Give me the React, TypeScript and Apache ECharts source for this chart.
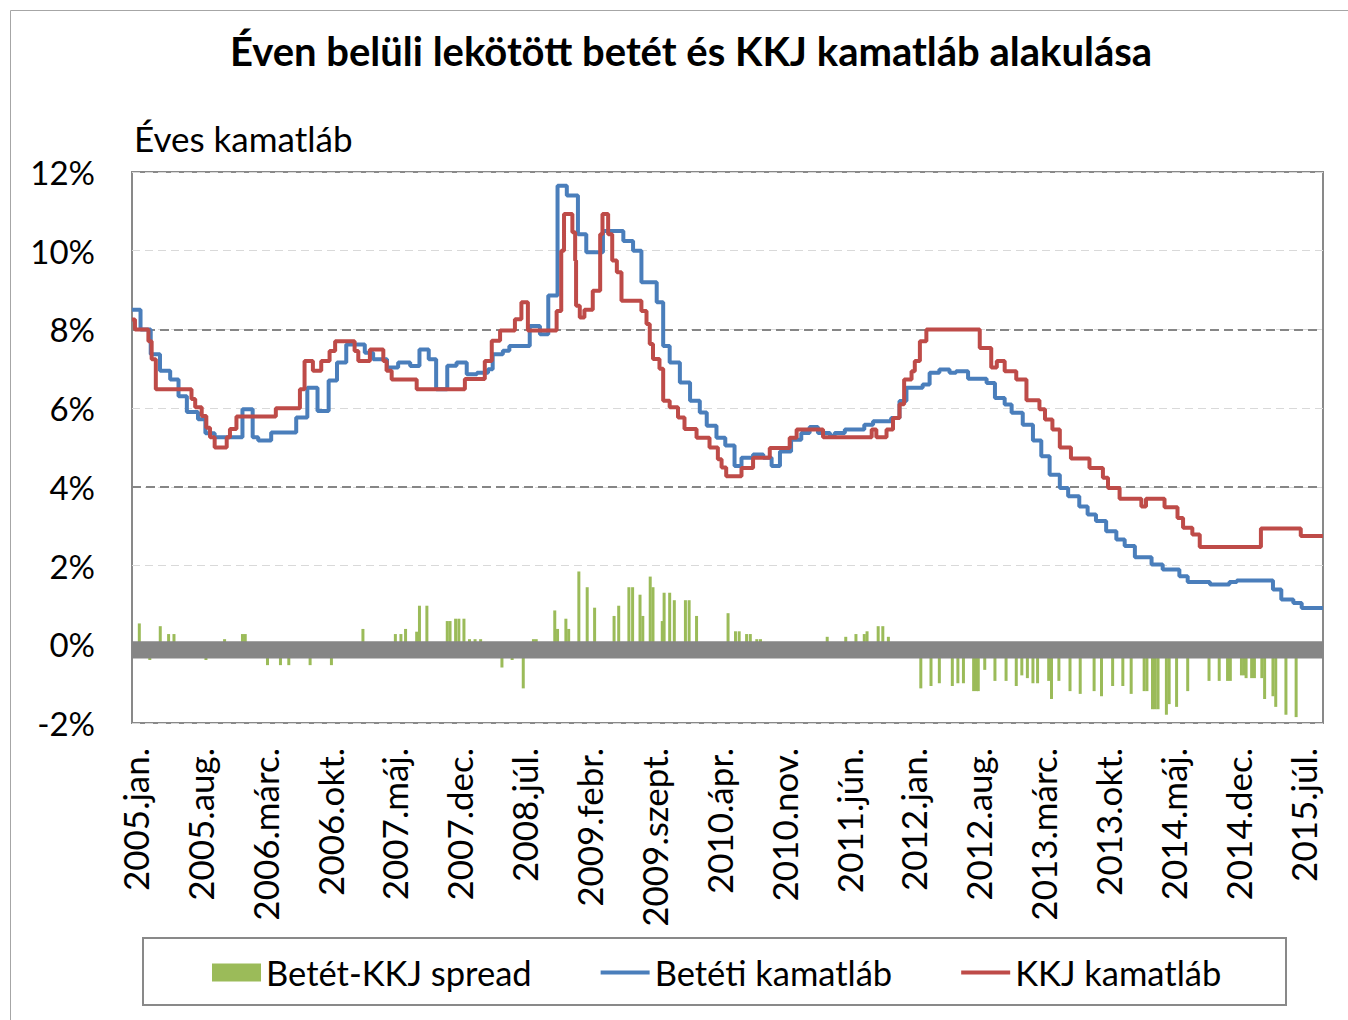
import React, { useEffect, useRef } from 'react';
import * as echarts from 'echarts';

// x values are months counted from 2005 January
const tickMonths = [0, 7, 14, 21, 28, 35, 42, 49, 56, 63, 70, 77, 84, 91, 98, 105, 112, 119, 126];
const tickLabels = [
  '2005.jan.', '2005.aug.', '2006.márc.', '2006.okt.', '2007.máj.', '2007.dec.', '2008.júl.',
  '2009.febr.', '2009.szept.', '2010.ápr.', '2010.nov.', '2011.jún.', '2012.jan.', '2012.aug.',
  '2013.márc.', '2013.okt.', '2014.máj.', '2014.dec.', '2015.júl.',
];

const seriesNames = ['Betét-KKJ spread', 'Betéti kamatláb', 'KKJ kamatláb'];

// Betéti kamatláb (deposit rate), step changes [month, %]
const depositRate: [number, number][] = [
  [-0.32, 8.5], [0.6, 8.0], [1.7, 7.37], [2.7, 6.95], [3.8, 6.73], [4.7, 6.3], [5.6, 5.9], [6.8, 5.72],
  [7.6, 5.36], [8.6, 5.26], [11.6, 5.97], [12.7, 5.26], [13.3, 5.18], [14.7, 5.38], [17.4, 5.76],
  [18.6, 6.52], [19.7, 5.93], [20.9, 6.7], [21.8, 7.16], [22.8, 7.62], [24.8, 7.41], [25.7, 7.24],
  [27.2, 7.03], [28.4, 7.16], [29.7, 7.07], [30.7, 7.49], [31.7, 7.24], [32.5, 6.48], [33.7, 7.08],
  [34.7, 7.16], [35.8, 6.86], [36.9, 6.9], [38.1, 6.99], [38.6, 7.37], [39.7, 7.46], [40.4, 7.58],
  [42.6, 8.09], [43.7, 7.88], [44.6, 8.86], [45.6, 11.65], [46.6, 11.4], [47.8, 10.42], [48.7, 9.96],
  [50.5, 10.5], [52.7, 10.25], [53.75, 10.0], [54.65, 9.2], [56.3, 8.69], [57.0, 7.58], [57.7, 7.16],
  [58.8, 6.65], [59.9, 6.19], [60.95, 5.89], [61.7, 5.55], [62.75, 5.25], [63.7, 5.05], [64.7, 4.53],
  [65.45, 4.74], [66.7, 4.82], [67.8, 4.74], [68.7, 4.53], [69.6, 4.9], [70.8, 5.2], [71.9, 5.37],
  [72.8, 5.52], [73.7, 5.37], [75.0, 5.29], [75.5, 5.37], [76.6, 5.46], [78.7, 5.58], [79.65, 5.67],
  [81.6, 5.75], [82.5, 6.18], [83.25, 6.52], [85.0, 6.6], [85.75, 6.9], [86.8, 6.98], [87.9, 6.9],
  [88.6, 6.94], [89.9, 6.75], [91.9, 6.64], [92.8, 6.26], [93.85, 6.09], [94.6, 5.88], [95.8, 5.58],
  [96.9, 5.18], [97.8, 4.78], [98.7, 4.31], [99.8, 3.97], [100.7, 3.76], [101.9, 3.5], [102.8, 3.3],
  [103.7, 3.13], [104.8, 2.87], [105.9, 2.66], [106.8, 2.5], [107.9, 2.21], [109.7, 2.03], [110.9, 1.9],
  [112.7, 1.73], [113.6, 1.58], [116.0, 1.52], [118.1, 1.58], [118.9, 1.62], [122.8, 1.39], [123.7, 1.14],
  [125.0, 1.05], [125.9, 0.92], [128.2, 0.92],
];

// KKJ kamatláb (treasury bill rate), step changes [month, %]
const tbillRate: [number, number][] = [
  [-0.32, 8.25], [0.0, 8.0], [1.45, 7.7], [1.8, 7.24], [2.25, 6.48], [6.1, 6.23], [6.5, 6.02], [7.2, 5.8],
  [7.7, 5.5], [8.1, 5.26], [8.6, 5.0], [9.9, 5.26], [10.25, 5.47], [10.95, 5.79], [15.2, 6.0], [17.8, 6.48],
  [18.3, 7.2], [19.2, 6.95], [20.1, 7.2], [21.0, 7.45], [21.6, 7.7], [23.7, 7.45], [24.1, 7.2],
  [25.35, 7.49], [26.8, 7.2], [27.15, 6.95], [27.7, 6.73], [30.4, 6.48], [35.6, 6.74], [37.75, 7.2],
  [38.5, 7.71], [39.4, 7.97], [41.0, 8.26], [41.7, 8.69], [42.4, 7.97], [45.5, 8.47], [46.0, 10.0],
  [46.3, 10.93], [47.2, 10.47], [47.5, 9.75], [47.6, 8.6], [48.0, 8.3], [48.5, 8.5], [49.4, 8.98],
  [50.2, 10.42], [50.45, 10.93], [51.06, 10.42], [51.5, 9.75], [52.0, 9.45], [52.5, 8.73], [54.65, 8.47],
  [55.2, 8.14], [55.55, 7.63], [55.9, 7.25], [56.6, 7.0], [57.0, 6.19], [57.7, 6.02], [58.6, 5.76],
  [59.3, 5.47], [60.6, 5.25], [62.0, 5.0], [62.9, 4.7], [63.3, 4.49], [63.8, 4.27], [65.45, 4.48],
  [66.7, 4.74], [68.5, 4.99], [70.65, 5.25], [71.4, 5.46], [74.25, 5.26], [79.5, 5.46], [80.0, 5.26],
  [81.1, 5.46], [81.8, 5.75], [82.5, 6.1], [83.0, 6.73], [83.8, 6.94], [84.15, 7.2], [84.7, 7.7],
  [85.4, 8.0], [91.16, 7.53], [92.4, 7.03], [93.0, 7.2], [93.85, 6.94], [95.1, 6.73], [96.2, 6.2],
  [97.6, 5.97], [98.2, 5.71], [99.0, 5.46], [99.8, 5.0], [101.0, 4.72], [103.0, 4.48], [104.45, 4.23],
  [105.0, 3.97], [106.25, 3.7], [108.6, 3.5], [109.1, 3.7], [111.1, 3.48], [112.5, 3.21], [113.1, 2.96],
  [114.1, 2.79], [114.9, 2.47], [121.5, 2.94], [125.8, 2.75], [128.2, 2.75],
];

// Betét-KKJ spread bars [month, percentage points]
const spreadPositive: [number, number][] = [
  [0.47, 0.53], [2.73, 0.46], [3.63, 0.26], [4.21, 0.26], [9.67, 0.13], [11.6, 0.26], [11.9, 0.26],
  [24.6, 0.39], [28.1, 0.26], [28.7, 0.26], [29.2, 0.39], [30.4, 0.32], [30.7, 0.98], [31.5, 0.98],
  [33.7, 0.59], [34.0, 0.59], [34.6, 0.65], [34.95, 0.65], [35.5, 0.65], [36.1, 0.13], [36.7, 0.13],
  [37.3, 0.13], [43.0, 0.13], [43.3, 0.13], [45.3, 0.86], [45.6, 0.39], [46.5, 0.65], [46.8, 0.39],
  [47.9, 1.85], [48.8, 1.45], [49.6, 0.93], [51.7, 0.72], [52.2, 0.98], [53.3, 1.45], [53.7, 1.45],
  [54.5, 1.26], [54.8, 0.72], [55.6, 1.72], [55.9, 1.45], [56.9, 0.59], [57.1, 1.31], [57.7, 1.31],
  [58.2, 1.12], [59.4, 1.12], [59.8, 1.12], [60.6, 0.72], [64.0, 0.79], [64.8, 0.33], [65.2, 0.33],
  [66.0, 0.26], [66.4, 0.26], [67.1, 0.13], [67.5, 0.13], [74.7, 0.19], [76.7, 0.19], [77.8, 0.26],
  [78.7, 0.26], [79.0, 0.33], [80.2, 0.46], [80.7, 0.46], [81.3, 0.19],
];
const spreadNegative: [number, number][] = [
  [1.6, -0.4], [7.66, -0.4], [14.3, -0.53], [15.7, -0.53], [16.6, -0.53], [18.9, -0.53], [21.2, -0.53],
  [39.6, -0.59], [40.7, -0.4], [41.9, -1.12], [84.8, -1.12], [85.9, -1.06], [86.8, -0.99], [88.2, -1.06],
  [88.8, -0.99], [89.4, -0.99], [90.5, -1.19], [90.8, -1.19], [91.0, -1.19], [91.7, -0.65], [92.8, -0.93],
  [94.0, -0.93], [95.1, -1.06], [95.7, -0.79], [96.3, -0.86], [96.9, -0.99], [97.4, -0.99], [98.6, -0.93],
  [98.9, -1.39], [99.7, -0.93], [100.9, -1.19], [102.0, -1.26], [103.5, -1.19], [104.3, -1.32],
  [105.5, -1.06], [106.6, -1.06], [107.5, -1.26], [108.9, -1.19], [109.2, -1.19], [109.8, -1.65],
  [110.1, -1.65], [110.4, -1.65], [111.3, -1.79], [111.6, -1.52], [112.4, -1.59], [113.6, -1.19],
  [115.9, -0.93], [117.0, -0.93], [117.9, -0.93], [118.2, -0.93], [119.4, -0.79], [119.7, -0.79],
  [119.9, -0.86], [120.5, -0.86], [120.8, -0.86], [121.6, -0.86], [121.9, -1.39], [122.8, -1.32],
  [123.1, -1.59], [124.2, -1.79], [125.3, -1.85],
];

// thick category-axis band around zero [top, bottom] in %
const zeroBand = [0.08, -0.36];
const dashedRefLevels = [8, 4];

const FONT = 'Lato';

export default function App() {
  const ref = useRef<HTMLDivElement>(null);

  useEffect(() => {
    if (!ref.current) return;
    const chart = echarts.init(ref.current, undefined, { renderer: 'svg' });
    const spread = [...spreadPositive, ...spreadNegative].sort((a, b) => a[0] - b[0]);

    chart.setOption({
      animation: false,
      backgroundColor: '#ffffff',
      textStyle: { fontFamily: FONT },
      grid: {
        left: 132, right: 25, top: 172, bottom: 297,
        show: true, borderColor: '#898989', borderWidth: 2, backgroundColor: 'transparent',
      },
      graphic: [
        {
          type: 'rect', silent: true, z: -10,
          shape: { x: 10.5, y: 10.5, width: 1400, height: 1100 },
          style: { fill: 'none', stroke: '#a6a6a6', lineWidth: 1 },
        },
        {
          type: 'rect', silent: true,
          shape: { x: 143, y: 938, width: 1143, height: 67 },
          style: { fill: 'none', stroke: '#898989', lineWidth: 2 },
        },
        {
          type: 'text', x: 691, y: 51,
          style: {
            text: 'Éven belüli lekötött betét és KKJ kamatláb alakulása',
            fontFamily: FONT, fontWeight: 'bold', fontSize: 40, fill: '#000',
            align: 'center', verticalAlign: 'middle',
          },
        },
        {
          type: 'text', x: 134, y: 138,
          style: {
            text: 'Éves kamatláb', fontFamily: FONT, fontSize: 35, fill: '#000',
            align: 'left', verticalAlign: 'middle',
          },
        },
      ],
      legend: {
        data: [
          { name: seriesNames[0], icon: 'rect' },
          { name: seriesNames[1], itemStyle: { opacity: 0 }, lineStyle: { width: 4 } },
          { name: seriesNames[2], itemStyle: { opacity: 0 }, lineStyle: { width: 4 } },
        ],
        left: 212, top: 955, padding: 0,
        itemWidth: 49, itemHeight: 18, itemGap: 67,
        textStyle: { fontSize: 34.5, color: '#000', fontFamily: FONT },
      },
      xAxis: {
        type: 'value', min: -0.32, max: 128.2,
        axisLine: { show: false }, axisTick: { show: false }, splitLine: { show: false },
        axisLabel: {
          customValues: tickMonths,
          formatter: (v: number) => {
            const i = tickMonths.indexOf(Math.round(v));
            return i >= 0 ? tickLabels[i] : '';
          },
          rotate: 90, margin: 25, fontSize: 35, color: '#000', fontFamily: FONT,
        },
      },
      yAxis: {
        type: 'value', min: -2, max: 12, interval: 2,
        axisLine: { show: false }, axisTick: { show: false },
        axisLabel: { formatter: '{value}%', fontSize: 33, color: '#000', margin: 37, fontFamily: FONT },
        splitLine: { show: true, lineStyle: { color: '#d9d9d9', width: 1, type: [8, 5] } },
      },
      series: [
        {
          name: seriesNames[0], type: 'bar', data: spread, barWidth: 3, z: 2,
          itemStyle: { color: '#9bbb59' },
          markLine: {
            z: 1, silent: true, symbol: ['none', 'none'], label: { show: false },
            lineStyle: { color: '#868686', width: 2, type: [9, 5] },
            data: dashedRefLevels.map((v) => ({ yAxis: v })),
          },
        },
        {
          name: 'zeroBand', type: 'custom', z: 3, silent: true,
          data: [[0, 0]],
          renderItem: (params: any, api: any) => {
            const cs = params.coordSys;
            const top = api.coord([0, zeroBand[0]])[1];
            const bottom = api.coord([0, zeroBand[1]])[1];
            return {
              type: 'rect',
              shape: { x: cs.x, y: top, width: cs.width, height: bottom - top },
              style: { fill: '#868686' },
            };
          },
        },
        {
          name: seriesNames[1], type: 'line', step: 'end', data: depositRate, z: 4,
          symbol: 'none', showSymbol: false,
          lineStyle: { color: '#4a7ebb', width: 4 }, itemStyle: { color: '#4a7ebb' },
        },
        {
          name: seriesNames[2], type: 'line', step: 'end', data: tbillRate, z: 5,
          symbol: 'none', showSymbol: false,
          lineStyle: { color: '#be4b48', width: 4 }, itemStyle: { color: '#be4b48' },
        },
      ],
    });
    return () => chart.dispose();
  }, []);

  return (
    <div
      ref={ref}
      style={{ position: 'absolute', left: 0, top: 0, width: 1348, height: 1020, background: '#fff' }}
    />
  );
}
